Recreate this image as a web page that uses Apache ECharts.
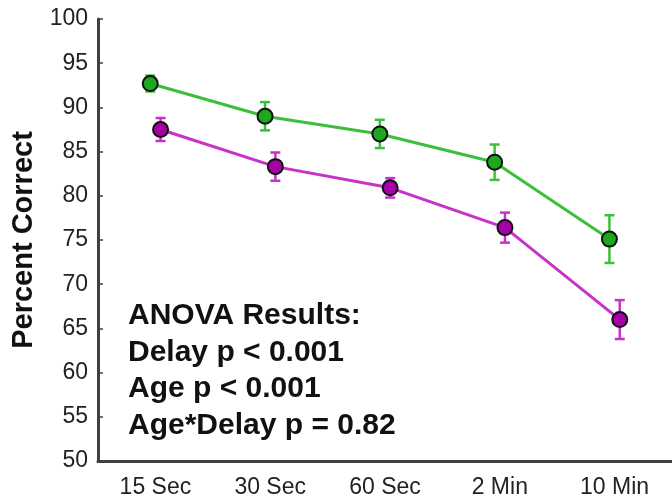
<!DOCTYPE html>
<html lang="en">
<head>
  <meta charset="UTF-8">
  <title>Percent Correct by Delay</title>
  <script src="https://cdn.jsdelivr.net/npm/echarts@6/dist/echarts.min.js"></script>
</head>
<body style="margin: 0;padding: 0;">
  <div id="main" style="width: 672px;height: 499px;"></div>
  <script>
    var categories = ['15 Sec', '30 Sec', '60 Sec', '2 Min', '10 Min'];
    var greenMean = [92.7, 89.0, 87.0, 83.8, 75.1];
    var greenErr = [0.9, 1.6, 1.6, 2.0, 2.7];
    var magentaMean = [87.5, 83.3, 80.9, 76.4, 66.0];
    var magentaErr = [1.3, 1.6, 1.1, 1.7, 2.2];
    var yTicks = [50, 100, 5];
    var anovaLines = ['ANOVA Results:', 'Delay p < 0.001', 'Age p < 0.001', 'Age*Delay p = 0.82'];

    var myChart = echarts.init(document.getElementById('main'));
    var font = 'Arial, "Liberation Sans", sans-serif';

    // small sideways offset so the two groups don't overlap
    function pts(means, shift) {
      return means.map((v, i) => [i + 1 + shift, v]);
    }
    function bars(means, errs, shift) {
      return means.map((v, i) => [i + 1 + shift, v - errs[i], v + errs[i]]);
    }
    function errorBar(color) {
      return function (params, api) {
        var lo = api.coord([api.value(0), api.value(1)]);
        var hi = api.coord([api.value(0), api.value(2)]);
        var w = 5;
        var style = { stroke: color, lineWidth: 2.5 };
        return {
          type: 'group',
          children: [
            { type: 'line', shape: { x1: lo[0], y1: lo[1], x2: hi[0], y2: hi[1] }, style: style },
            { type: 'line', shape: { x1: lo[0] - w, y1: lo[1], x2: lo[0] + w, y2: lo[1] }, style: style },
            { type: 'line', shape: { x1: hi[0] - w, y1: hi[1], x2: hi[0] + w, y2: hi[1] }, style: style }
          ]
        };
      };
    }

    var greenLine = '#3cbf3c', greenFill = '#1ea81e';
    var magLine = '#c832c8', magFill = '#a800a8';

    var option = {
      animation: false,
      grid: { left: 98, right: -3, top: 19, bottom: 37 },
      xAxis: [
        {
          type: 'category',
          data: categories,
          boundaryGap: true,
          axisLine: { lineStyle: { color: '#404040', width: 3 } },
          axisTick: { alignWithLabel: true, inside: true, length: 5, lineStyle: { color: '#404040', width: 1.5 } },
          axisLabel: { color: '#222', fontSize: 23, fontFamily: font, margin: 15 },
          splitLine: { show: false }
        },
        {
          type: 'value',
          min: 0.5,
          max: 5.5,
          show: false
        }
      ],
      yAxis: {
        type: 'value',
        min: yTicks[0],
        max: yTicks[1],
        interval: yTicks[2],
        name: 'Percent Correct',
        nameLocation: 'middle',
        nameRotate: 90,
        nameGap: 60,
        nameTextStyle: { fontSize: 29, fontWeight: 'bold', color: '#111', fontFamily: font },
        axisLine: { show: true, lineStyle: { color: '#404040', width: 3 } },
        axisTick: { show: true, inside: true, length: 5, lineStyle: { color: '#404040', width: 1.5 } },
        axisLabel: { color: '#222', fontSize: 23, fontFamily: font, margin: 10 },
        splitLine: { show: false }
      },
      series: [
        {
          type: 'custom',
          xAxisIndex: 1,
          renderItem: errorBar(greenLine),
          data: bars(greenMean, greenErr, -0.045),
          z: 2
        },
        {
          type: 'custom',
          xAxisIndex: 1,
          renderItem: errorBar(magLine),
          data: bars(magentaMean, magentaErr, 0.045),
          z: 2
        },
        {
          type: 'line',
          xAxisIndex: 1,
          data: pts(greenMean, -0.045),
          symbol: 'circle',
          symbolSize: 15,
          lineStyle: { color: greenLine, width: 3 },
          itemStyle: { color: greenFill, borderColor: '#111', borderWidth: 2 },
          z: 3
        },
        {
          type: 'line',
          xAxisIndex: 1,
          data: pts(magentaMean, 0.045),
          symbol: 'circle',
          symbolSize: 15,
          lineStyle: { color: magLine, width: 3 },
          itemStyle: { color: magFill, borderColor: '#111', borderWidth: 2 },
          z: 3
        }
      ],
      graphic: anovaLines.map((t, i) => ({
        type: 'text',
        x: 128,
        y: 316 + i * 36.5,
        style: { text: t, fill: '#111', font: 'bold 30px ' + font, verticalAlign: 'middle' }
      }))
    };

    myChart.setOption(option);
  </script>
</body>
</html>
